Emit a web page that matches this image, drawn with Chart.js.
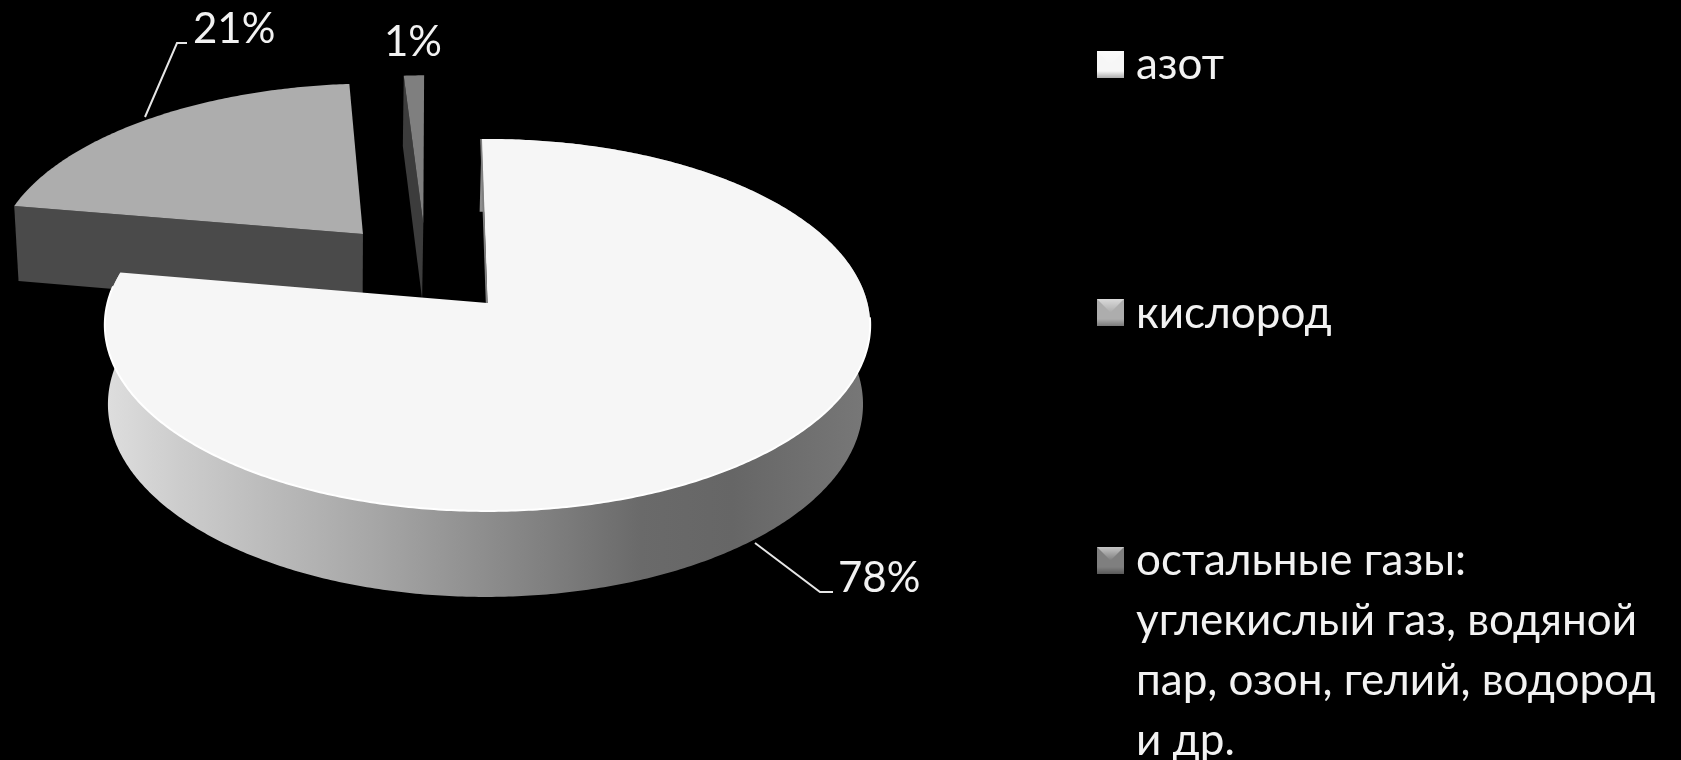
<!DOCTYPE html>
<html lang="ru">
<head>
<meta charset="utf-8">
<title>Состав воздуха</title>
<script src="https://cdn.jsdelivr.net/npm/chart.js@4"></script>
<style>
  html, body { margin: 0; padding: 0; background: #000; }
  #airChart { display: block; }
</style>
</head>
<body>
<canvas id="airChart" width="1681" height="760"></canvas>
<script>
const categories = [
  ['азот'],
  ['кислород'],
  ['остальные газы:', 'углекислый газ, водяной', 'пар, озон, гелий, водород', 'и др.']
];
const shareValues = [78, 21, 1];

const topColors = ['#f6f6f6', '#adadad', '#7f7f7f'];
const wallColors = ['#808080', '#4a4a4a', '#3c3c3c'];
const FONT = 'Lato, "Open Sans", sans-serif';

// how far each slice is pulled out of the pie, in disc units
const sliceShift = [[0, 0], [-0.343, 0.394], [-0.178, 0.455]];

// perspective of the pie top, fitted to the picture
const X0 = 487.5, Y0 = 303, A = 380, B = 183.4, K = 0.118;

function project(u, v) {
  const den = 1 + K * v;
  return { x: X0 + A * u / den, y: Y0 - B * v / den };
}

// same point on the underside of the pie
function lower(p) {
  return { x: 0.9866 * p.x + 4.5, y: p.y + 86 - 0.0358 * (511 - p.y) };
}

function slicePoint(index, angle, r) {
  const theta = angle + Math.PI / 2;
  const shift = sliceShift[index];
  return project(shift[0] + r * Math.sin(theta), shift[1] + r * Math.cos(theta));
}

function rimPoints(index, start, end) {
  const pts = [];
  const steps = Math.max(2, Math.ceil((end - start) / 0.01));
  for (let i = 0; i <= steps; i++) {
    pts.push(slicePoint(index, start + (end - start) * i / steps, 1));
  }
  return pts;
}

function fillPath(ctx, pts, fill) {
  ctx.beginPath();
  pts.forEach((p, i) => (i ? ctx.lineTo(p.x, p.y) : ctx.moveTo(p.x, p.y)));
  ctx.closePath();
  ctx.fillStyle = fill;
  ctx.fill();
}

function strokePath(ctx, pts, color, width) {
  ctx.beginPath();
  pts.forEach((p, i) => (i ? ctx.lineTo(p.x, p.y) : ctx.moveTo(p.x, p.y)));
  ctx.strokeStyle = color;
  ctx.lineWidth = width;
  ctx.stroke();
}

function drawBigSlice(ctx, arc) {
  const rim = rimPoints(0, arc.startAngle, arc.endAngle);
  const apex = slicePoint(0, arc.startAngle, 0);

  const wall = ctx.createLinearGradient(105, 0, 870, 0);
  wall.addColorStop(0, '#dedede');
  wall.addColorStop(0.1, '#cccccc');
  wall.addColorStop(0.36, '#a5a5a5');
  wall.addColorStop(0.58, '#7f7f7f');
  wall.addColorStop(0.7, '#6a6a6a');
  wall.addColorStop(0.82, '#666666');
  wall.addColorStop(1, '#787878');
  fillPath(ctx, rim.concat(rim.map(lower).reverse()), wall);

  fillPath(ctx, [apex].concat(rim), topColors[0]);
  // cut face of the slice, seen almost edge on
  strokePath(ctx, [{ x: rim[0].x - 0.5, y: rim[0].y }, { x: apex.x - 0.8, y: apex.y }], wallColors[0], 1.8);

  // thin highlight on the front left edge
  const from = arc.startAngle + (arc.endAngle - arc.startAngle) * 0.34;
  strokePath(ctx, rimPoints(0, from, arc.endAngle - 0.08), '#ffffff', 2);
}

function drawCutSlice(ctx, index, arc) {
  const rim = rimPoints(index, arc.startAngle, arc.endAngle);
  const apex = slicePoint(index, arc.startAngle, 0);
  fillPath(ctx, [rim[0], apex, lower(apex), lower(rim[0])], wallColors[index]);
  fillPath(ctx, [apex].concat(rim), topColors[index]);
}

function drawLegendBox(ctx, x, y, size, color) {
  ctx.fillStyle = color;
  ctx.fillRect(x, y, size, size);
  const shine = ctx.createLinearGradient(0, y, 0, y + size / 2);
  shine.addColorStop(0, 'rgba(255,255,255,0.55)');
  shine.addColorStop(1, 'rgba(255,255,255,0)');
  fillPath(ctx, [{ x: x, y: y }, { x: x + size, y: y }, { x: x + size / 2, y: y + size / 2 }], shine);
  const shade = ctx.createLinearGradient(0, y + size - 7, 0, y + size);
  shade.addColorStop(0, 'rgba(0,0,0,0)');
  shade.addColorStop(1, 'rgba(0,0,0,0.3)');
  ctx.fillStyle = shade;
  ctx.fillRect(x, y + size - 7, size, 7);
}

// label text, anchor of text and leader line
const dataLabels = [
  { x: 838, y: 592, line: [[833, 592], [820, 592], [755, 543]] },
  { x: 193, y: 43, line: [[187, 43], [177, 43], [145, 117]] },
  { x: 384, y: 56, line: [] }
];

const legendRows = [
  { box: 51, text: 79 },
  { box: 299, text: 328 },
  { box: 547, text: 575 }
];

const pie3dPlugin = {
  id: 'pie3d',
  beforeDatasetsDraw(chart) {
    const ctx = chart.ctx;
    const arcs = chart.getDatasetMeta(0).data;
    ctx.save();
    ctx.lineJoin = 'round';
    drawCutSlice(ctx, 1, arcs[1]);
    drawCutSlice(ctx, 2, arcs[2]);
    drawBigSlice(ctx, arcs[0]);
    ctx.restore();
    return false;
  },
  afterDraw(chart) {
    const ctx = chart.ctx;
    ctx.save();
    ctx.textBaseline = 'alphabetic';
    ctx.textAlign = 'left';

    ctx.font = '42px ' + FONT;
    dataLabels.forEach((label, i) => {
      ctx.fillStyle = '#f2f2f2';
      ctx.fillText(shareValues[i] + '%', label.x, label.y);
      if (label.line.length) {
        strokePath(ctx, label.line.map(p => ({ x: p[0], y: p[1] })), '#e6e6e6', 2);
      }
    });

    ctx.font = '44px ' + FONT;
    categories.forEach((lines, i) => {
      drawLegendBox(ctx, 1097, legendRows[i].box, 27, topColors[i]);
      ctx.fillStyle = '#f2f2f2';
      lines.forEach((line, n) => {
        ctx.fillText(line, 1136, legendRows[i].text + n * 60);
      });
    });
    ctx.restore();
  }
};

new Chart(document.getElementById('airChart'), {
  type: 'pie',
  data: {
    labels: categories.map(lines => lines.join(' ')),
    datasets: [{ data: shareValues, backgroundColor: topColors, borderWidth: 0 }]
  },
  options: {
    responsive: false,
    animation: false,
    rotation: -1,
    plugins: { legend: { display: false }, tooltip: { enabled: false } }
  },
  plugins: [pie3dPlugin]
});
</script>
</body>
</html>
